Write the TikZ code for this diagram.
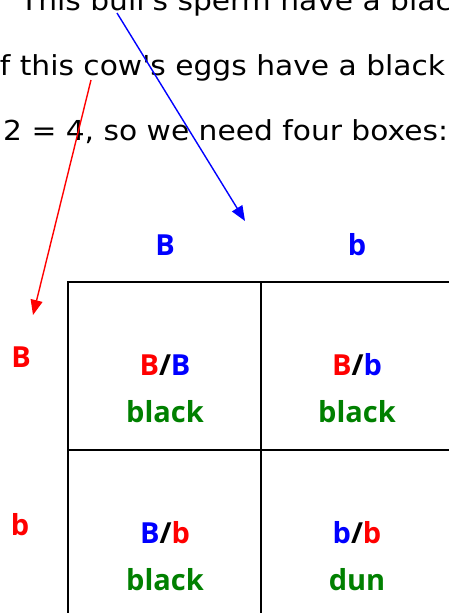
\documentclass[tikz,border=0pt]{standalone}
\usepackage{fontspec}
\setmainfont{Open Sans}
\newfontfamily\topfont[FakeStretch=1.08]{DejaVu Sans}
\usetikzlibrary{arrows.meta}
\definecolor{gblue}{RGB}{0,0,255}
\definecolor{gred}{RGB}{255,0,0}
\definecolor{ggreen}{RGB}{0,128,0}
\begin{document}
\begin{tikzpicture}[x=1pt,y=-1pt,
  toptext/.style={font=\topfont\fontsize{27.5}{32}\selectfont, anchor=base west, inner sep=0pt},
  lab/.style={font=\fontsize{29}{34}\selectfont\bfseries, anchor=base, inner sep=0pt},
  arr/.style={line width=1.4pt, -{Triangle[length=15pt,width=12pt]}},
  gridline/.style={line width=1.5pt}]
\useasboundingbox (0,0) rectangle (449,613);
\clip (0,0) rectangle (449,613);
% top text lines
\node[toptext] (l1) at (20,10) {This bull{\char"0027}s sperm have a black gene};
\node[toptext] (l2) at (-9,75) {If this cow{\char"0027}s eggs have a black gene};
\node[toptext] (l3) at (3,140) {2 = 4, so we need four boxes:};
% arrows
\coordinate (bs) at (117,13);
\coordinate (be) at (245,221);
\coordinate (rs) at (91,80);
\coordinate (re) at (33,315);
\draw[arr, gblue] (bs) -- (be);
\draw[arr, gred] (rs) -- (re);
% grid
\coordinate (g1) at (68,282);
\coordinate (g2) at (455,619);
\coordinate (gm) at (261,450);
\draw[gridline] (g1) rectangle (g2);
\draw[gridline] (g1 -| gm) -- (g2 -| gm);
\draw[gridline] (g1 |- gm) -- (g2 |- gm);
% headers
\node[lab, gblue] (cB) at (165,255) {B};
\node[lab, gblue] (cb) at (357,255) {b};
\node[lab, gred] (rB) at (21,367) {B};
\node[lab, gred] (rb) at (20,535) {b};
% cells
\node[lab] (c11) at (165,375) {{\color{gred}B}/{\color{gblue}B}};
\node[lab, ggreen] (p11) at (165,422) {black};
\node[lab] (c12) at (357,375) {{\color{gred}B}/{\color{gblue}b}};
\node[lab, ggreen] (p12) at (357,422) {black};
\node[lab] (c21) at (165,543) {{\color{gblue}B}/{\color{gred}b}};
\node[lab, ggreen] (p21) at (165,590) {black};
\node[lab] (c22) at (357,543) {{\color{gblue}b}/{\color{gred}b}};
\node[lab, ggreen] (p22) at (357,590) {dun};
\end{tikzpicture}
\end{document}
